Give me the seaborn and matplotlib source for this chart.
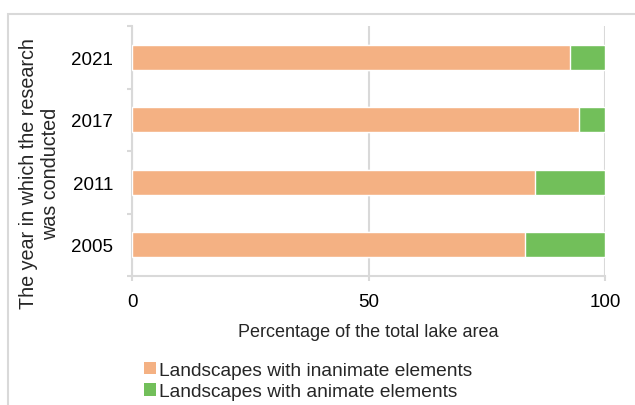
import matplotlib
matplotlib.use("Agg")
import matplotlib.pyplot as plt
from matplotlib.patches import Patch, Rectangle
import seaborn as sns
import pandas as pd

# Share of lake area by landscape type, per survey year
years = ["2021", "2017", "2011", "2005"]
inanimate = [92.5, 94.5, 85.2, 83.1]
animate = [7.5, 5.5, 14.8, 16.9]

labels = ["Landscapes with inanimate elements", "Landscapes with animate elements"]
colors = ["#F4B183", "#72BF5A"]
grey = "#D9D9D9"

df = pd.DataFrame({"year": years, "inanimate": inanimate, "animate": animate})
df["total"] = df["inanimate"] + df["animate"]

sns.set_theme(style="white")
plt.rcParams["font.family"] = ["Liberation Sans", "DejaVu Sans"]

W, H = 635, 406
fig = plt.figure(figsize=(W / 100, H / 100), dpi=100)
ax = fig.add_axes([132 / W, 1 - 277 / H, (605 - 132) / W, 250 / H])

# outer chart frame
fig.patches.append(Rectangle((8 / W, -0.1), 1.1, 1.1 - 15 / H,
                             transform=fig.transFigure, fill=False,
                             edgecolor=grey, linewidth=1.5, zorder=0))

# stacked bars: full length in green, inanimate share drawn over it
sns.barplot(data=df, y="year", x="total", order=years, orient="h",
            color=colors[1], saturation=1, width=0.4, ax=ax, zorder=3)
sns.barplot(data=df, y="year", x="inanimate", order=years, orient="h",
            color=colors[0], saturation=1, width=0.4, ax=ax, zorder=3)

ax.set_xlim(0, 100)
ax.set_ylim(3.5, -0.5)
ax.set_xticks([0, 50, 100])
ax.xaxis.grid(True, color=grey, linewidth=1.5)
ax.set_axisbelow(True)

for side in ["top", "right"]:
    ax.spines[side].set_visible(False)
for side in ["left", "bottom"]:
    ax.spines[side].set_color(grey)
    ax.spines[side].set_linewidth(1.5)

# category separators on the y axis
ax.set_yticks([-0.5, 0.5, 1.5, 2.5, 3.5], minor=True)
ax.tick_params(axis="y", which="major", length=0, pad=13.7, labelsize=13.5, colors="#000000")
ax.tick_params(axis="y", which="minor", length=3.6, width=1.5, color=grey, left=True)
ax.tick_params(axis="x", which="major", length=3.6, width=1.5, color=grey, bottom=True,
               pad=8.5, labelsize=13.5, labelcolor="#000000")

ax.set_xlabel("Percentage of the total lake area", fontsize=13, labelpad=9.5)
ax.set_ylabel("The year in which the research\nwas conducted", fontsize=14.2,
              linespacing=1.2)
ax.yaxis.label.set_va("center")
ax.yaxis.set_label_coords((40 - 132) / 473, (277 - 173.5) / 250)

handles = [Patch(facecolor=c, edgecolor="none") for c in colors]
fig.legend(handles, labels, loc="center left", bbox_to_anchor=(144 / W, 1 - 382 / H),
           frameon=False, fontsize=13.8, handlelength=0.63, handleheight=0.63,
           handletextpad=0.17, labelspacing=0.25, borderaxespad=0, borderpad=0)

fig.savefig("out.png", dpi=100)
